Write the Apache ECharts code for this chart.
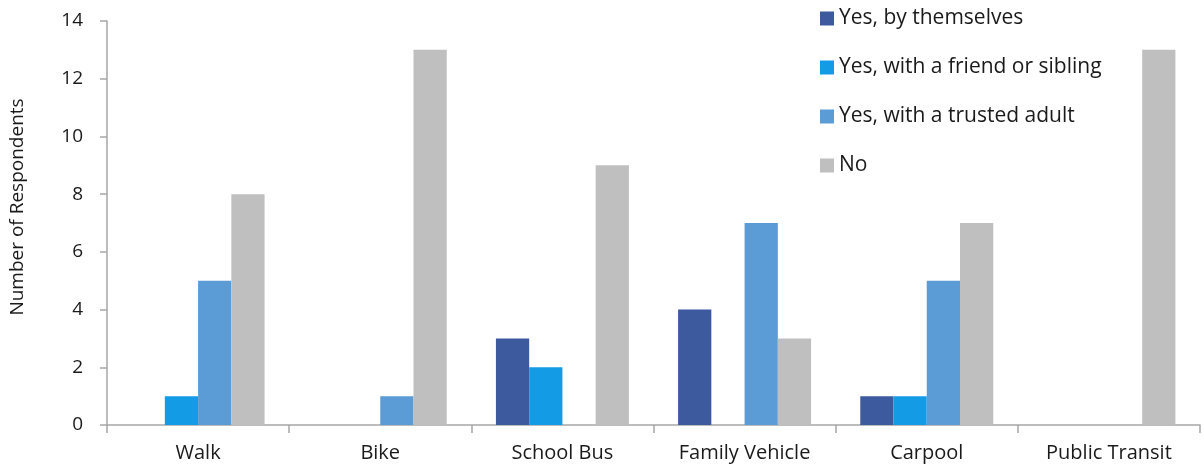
<!DOCTYPE html>
<html>
<head>
<meta charset="utf-8">
<script src="https://cdn.jsdelivr.net/npm/echarts@6/dist/echarts.min.js"></script>
<style>
  html, body { margin: 0; padding: 0; background: #fff; }
  #chart { width: 1204px; height: 470px; }
</style>
</head>
<body>
<div id="chart"></div>
<script>
const categories = ['Walk', 'Bike', 'School Bus', 'Family Vehicle', 'Carpool', 'Public Transit'];
const seriesNames = ['Yes, by themselves', 'Yes, with a friend or sibling', 'Yes, with a trusted adult', 'No'];
const byThemselves = [0, 0, 3, 4, 1, 0];
const withFriend = [1, 0, 2, 0, 1, 0];
const withAdult = [5, 1, 0, 7, 5, 0];
const noValues = [8, 13, 9, 3, 7, 13];
const yTicks = [0, 2, 4, 6, 8, 10, 12, 14];
const colors = ['#3d5a9e', '#139be6', '#5b9bd6', '#bfbfbf'];

const FONT = '"Open Sans"';
const values = [byThemselves, withFriend, withAdult, noValues];

const chart = echarts.init(document.getElementById('chart'), null, { renderer: 'canvas' });
chart.setOption({
  animation: false,
  textStyle: { fontFamily: FONT },
  grid: { left: 103, right: 4, top: 21, bottom: 45, containLabel: false },
  legend: {
    orient: 'vertical',
    left: 815,
    top: 3,
    itemWidth: 14,
    itemHeight: 14,
    itemGap: 28,
    icon: 'rect',
    textStyle: { fontFamily: FONT, fontSize: 21, color: '#1a1a1a' },
    data: seriesNames
  },
  xAxis: {
    type: 'category',
    data: categories,
    axisLine: { lineStyle: { color: '#a6a6a6', width: 1.5 } },
    axisTick: { show: true, alignWithLabel: false, length: 8, lineStyle: { color: '#a6a6a6', width: 1.5 } },
    axisLabel: { fontFamily: FONT, fontSize: 20, color: '#1a1a1a', margin: 18 }
  },
  yAxis: {
    type: 'value',
    min: 0,
    max: 14,
    interval: 2,
    name: 'Number of Respondents',
    nameLocation: 'middle',
    nameGap: 80,
    nameRotate: 90,
    nameTextStyle: { fontFamily: FONT, fontSize: 19, color: '#1a1a1a', padding: [0, 0, 0, 32] },
    axisLine: { show: true, lineStyle: { color: '#a6a6a6', width: 1.5 } },
    axisTick: { show: true, length: 7, lineStyle: { color: '#a6a6a6', width: 1.5 } },
    splitLine: { show: false },
    axisLabel: {
      fontFamily: FONT, fontSize: 19, color: '#1a1a1a', margin: 24,
      formatter: v => (yTicks.includes(v) ? String(v) : '')
    }
  },
  series: seriesNames.map((name, i) => ({
    name,
    type: 'bar',
    data: values[i],
    barGap: '0%',
    barCategoryGap: '27%',
    itemStyle: { color: colors[i] }
  }))
});
</script>
</body>
</html>
